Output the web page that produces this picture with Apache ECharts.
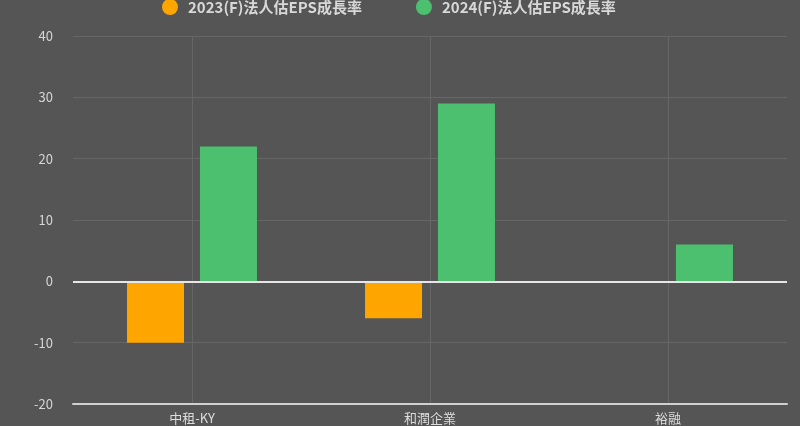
<!DOCTYPE html>
<html><head><meta charset="utf-8">
<script src="https://cdn.jsdelivr.net/npm/echarts@6/dist/echarts.min.js"></script>
<style>html,body{margin:0;padding:0;background:#555555;}#c{width:800px;height:426px;}</style>
</head><body><div id="c"></div>
<script>
var categories = ['中租-KY', '和潤企業', '裕融'];
var seriesNames = ['2023(F)法人估EPS成長率', '2024(F)法人估EPS成長率'];
var eps2023 = [-10, -6, null];
var eps2024 = [22, 29, 6];
var yTicks = { min: -20, max: 40, interval: 10 };

var chart = echarts.init(document.getElementById('c'));
var font = "'Noto Sans CJK TC', 'Noto Sans', sans-serif";
chart.setOption({
  backgroundColor: '#555555',
  textStyle: { fontFamily: font },
  legend: {
    top: -1, left: 162, padding: 0, icon: 'circle', itemWidth: 16, itemHeight: 16, itemGap: 54,
    textStyle: { color: '#d8d8d8', fontSize: 15, fontWeight: 'bold', fontFamily: font, padding: [0, 0, 0, 5] },
    data: seriesNames
  },
  grid: { left: 73, right: 13, top: 36, bottom: 22, containLabel: false },
  xAxis: {
    type: 'category', data: categories, position: 'bottom',
    axisLine: { onZero: false, lineStyle: { color: '#d0d0d0', width: 2 } },
    axisTick: { show: false },
    axisLabel: { color: '#dddddd', fontSize: 13, margin: 8, fontFamily: font },
    splitLine: { show: true, alignWithLabel: true, lineStyle: { color: '#666666', width: 1 } }
  },
  yAxis: {
    type: 'value', min: yTicks.min, max: yTicks.max, interval: yTicks.interval,
    axisLine: { show: false }, axisTick: { show: false },
    axisLabel: { color: '#d6d6d6', fontSize: 13, margin: 20, fontFamily: font },
    splitLine: { lineStyle: { color: '#666666', width: 1 } }
  },
  series: [
    { name: seriesNames[0], type: 'bar', data: eps2023, barWidth: 57, barGap: '28%',
      itemStyle: { color: '#FFA500' } },
    { name: seriesNames[1], type: 'bar', data: eps2024, barWidth: 57,
      itemStyle: { color: '#4CC06E' },
      markLine: { silent: true, symbol: 'none', label: { show: false },
        lineStyle: { color: '#e6e6e6', width: 2, type: 'solid' },
        data: [{ yAxis: 0 }] } }
  ]
});
</script></body></html>
